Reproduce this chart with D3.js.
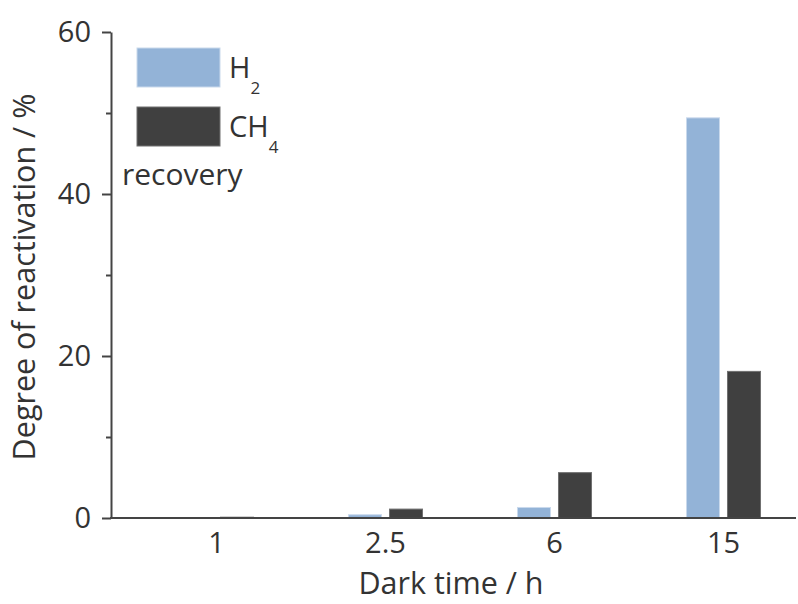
<!DOCTYPE html>
<html>
<head>
<meta charset="utf-8">
<script src="https://cdn.jsdelivr.net/npm/d3@7"></script>
<style>
  html, body { margin: 0; padding: 0; background: #fff; }
  svg { display: block; }
  text { font-family: "Open Sans", sans-serif; fill: #333; }
</style>
</head>
<body>
<svg id="chart" width="798" height="604"></svg>
<script>
// Dark time categories (h) and reactivation degree (%) per gas
const categories = ["1", "2.5", "6", "15"];
const seriesNames = ["H2", "CH4"];
const h2Values  = [0, 0.4, 1.3, 49.4];
const ch4Values = [0.1, 1.1, 5.6, 18.1];
const yMajorTicks = [0, 20, 40, 60];
const yMinorTicks = [10, 30, 50];
const colors = { H2: "#93b3d7", CH4: "#404040" };
const strokes = { H2: "#c9d9ec", CH4: "#707070" };

const svg = d3.select("#chart");

const axisLeftX = 111, axisRightX = 796;
const y = d3.scaleLinear().domain([0, 60]).range([518, 32]);

const x = d3.scaleBand()
  .domain(categories)
  .range([132, 808])
  .paddingInner(0.562)
  .paddingOuter(0.281);

const xs = d3.scaleBand()
  .domain(seriesNames)
  .range([0, x.bandwidth()])
  .paddingInner(0.195)
  .paddingOuter(0);

const rows = categories.map((c, i) => ({ cat: c, H2: h2Values[i], CH4: ch4Values[i] }));

// Bars
const groups = svg.append("g").selectAll("g")
  .data(rows).join("g")
  .attr("transform", d => `translate(${x(d.cat)},0)`);

groups.selectAll("rect")
  .data(d => seriesNames.map(s => ({ s, v: d[s] })))
  .join("rect")
  .attr("x", d => xs(d.s))
  .attr("width", xs.bandwidth())
  .attr("y", d => y(d.v))
  .attr("height", d => y(0) - y(d.v))
  .attr("fill", d => colors[d.s])
  .attr("stroke", d => d.v > 0 ? strokes[d.s] : "none")
  .attr("stroke-width", 1);

// Y axis: major and minor ticks
const yAxisG = svg.append("g")
  .attr("transform", `translate(${axisLeftX},0)`)
  .call(d3.axisLeft(y).tickValues(yMajorTicks).tickSize(9).tickSizeOuter(0).tickPadding(11).tickFormat(d3.format("d")));
yAxisG.select(".domain").attr("stroke", "#444").attr("stroke-width", 2);
yAxisG.selectAll(".tick line").attr("stroke", "#444").attr("stroke-width", 2);
yAxisG.selectAll(".tick text")
  .attr("font-size", 29).attr("font-family", "Open Sans, sans-serif").attr("fill", "#333");

const yMinorG = svg.append("g")
  .attr("transform", `translate(${axisLeftX},0)`)
  .call(d3.axisLeft(y).tickValues(yMinorTicks).tickSize(5).tickFormat(""));
yMinorG.select(".domain").remove();
yMinorG.selectAll(".tick line").attr("stroke", "#444").attr("stroke-width", 2);

// X axis
const xAxisG = svg.append("g")
  .attr("transform", `translate(0,${y(0)})`)
  .call(d3.axisBottom(x).tickSize(0).tickPadding(14));
xAxisG.select(".domain").remove();
xAxisG.append("line")
  .attr("x1", axisLeftX - 1).attr("x2", axisRightX)
  .attr("stroke", "#444").attr("stroke-width", 2);
xAxisG.selectAll(".tick text")
  .attr("font-size", 29).attr("font-family", "Open Sans, sans-serif").attr("fill", "#333")
  .attr("dy", "0.71em");

// Axis titles
svg.append("text")
  .attr("x", 451).attr("y", 594)
  .attr("text-anchor", "middle")
  .attr("font-size", 30.5)
  .text("Dark time / h");

svg.append("text")
  .attr("transform", "translate(35,277) rotate(-90)")
  .attr("text-anchor", "middle")
  .attr("font-size", 30.5)
  .text("Degree of reactivation / %");

// Legend
const legendItems = [
  { key: "H2", main: "H", sub: "2", top: 48 },
  { key: "CH4", main: "CH", sub: "4", top: 107 }
];
const legend = svg.append("g");
legend.selectAll("rect")
  .data(legendItems).join("rect")
  .attr("x", 137).attr("y", d => d.top)
  .attr("width", 83).attr("height", 39)
  .attr("fill", d => colors[d.key])
  .attr("stroke", d => strokes[d.key]).attr("stroke-width", 1);

const lt = legend.selectAll("text")
  .data(legendItems).join("text")
  .attr("x", 229).attr("y", d => d.top + 30)
  .attr("font-size", 29);
lt.append("tspan").text(d => d.main);
lt.append("tspan").attr("dy", 16).attr("font-size", 17).text(d => d.sub);

legend.append("text")
  .attr("x", 122).attr("y", 185)
  .attr("font-size", 30)
  .text("recovery");
</script>
</body>
</html>
